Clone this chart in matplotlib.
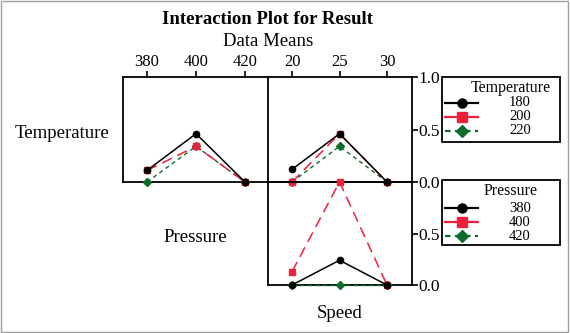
import matplotlib
matplotlib.use("Agg")
import matplotlib.pyplot as plt
from matplotlib.lines import Line2D
from matplotlib.patches import Rectangle

plt.rcParams['font.family'] = ['Liberation Serif', 'DejaVu Serif']

pressure_levels = [380, 400, 420]
speed_levels = [20, 25, 30]
temperature_levels = ['180', '200', '220']
pressure_names = ['380', '400', '420']

# Temperature lines vs Pressure (top-left panel)
temp_vs_pressure = {
    '180': [0.11, 0.46, 0.0],
    '200': [0.11, 0.34, 0.0],
    '220': [0.0, 0.34, 0.0],
}
# Temperature lines vs Speed (top-right panel)
temp_vs_speed = {
    '180': [0.12, 0.46, 0.0],
    '200': [0.0, 0.46, 0.0],
    '220': [0.0, 0.34, 0.0],
}
# Pressure lines vs Speed (bottom-right panel)
pressure_vs_speed = {
    '380': [0.0, 0.24, 0.0],
    '400': [0.13, 1.0, 0.0],
    '420': [0.0, 0.0, 0.0],
}

styles = [
    dict(color='black', linestyle='-', marker='o', markersize=4.5, linewidth=1.1),
    dict(color='#f0203a', linestyle=(0, (7, 4)), marker='s', markersize=4.5, linewidth=1.1),
    dict(color='#0d6b2c', linestyle=(0, (3, 2.5)), marker='D', markersize=3.8, linewidth=1.0),
]

W, H = 570, 333
fig = plt.figure(figsize=(W / 100, H / 100), dpi=100)


def ax_px(l, r, t, b):
    return fig.add_axes([l / W, (H - b) / H, (r - l) / W, (b - t) / H])


def fx(x):
    return x / W


def fy(y):
    return 1 - y / H


axA = ax_px(123, 268, 77, 182)
axB = ax_px(268, 412, 77, 182)
axC = ax_px(268, 412, 182, 285)

for ax in (axA, axB, axC):
    ax.set_ylim(0, 1.0)
    for s in ax.spines.values():
        s.set_linewidth(1.3)
    ax.set_facecolor('none')

axA.set_xlim(370.2, 429.4)
axB.set_xlim(17.47, 32.63)
axC.set_xlim(17.47, 32.63)

for i, k in enumerate(temperature_levels):
    axA.plot(pressure_levels, temp_vs_pressure[k], zorder=3 - i * 0.1, **styles[i])
    axB.plot(speed_levels, temp_vs_speed[k], zorder=3 - i * 0.1, **styles[i])
for i, k in enumerate(pressure_names):
    axC.plot(speed_levels, pressure_vs_speed[k], zorder=3 - i * 0.1, **styles[i])

for ax in (axA, axB, axC):
    for ln in ax.lines:
        ln.set_clip_on(False)

# top x tick labels
axA.xaxis.tick_top()
axA.set_xticks(pressure_levels)
axA.set_xticklabels([str(v) for v in pressure_levels])
axB.xaxis.tick_top()
axB.set_xticks(speed_levels)
axB.set_xticklabels([str(v) for v in speed_levels])
for ax in (axA, axB):
    ax.tick_params(axis='x', direction='out', length=4, width=1.2, pad=1, labelsize=12)
axA.set_yticks([])
axA.spines['right'].set_visible(False)

axB.yaxis.tick_right()
axB.set_yticks([0.0, 0.5, 1.0])
axB.set_yticklabels(['0.0', '0.5', '1.0'])
axC.yaxis.tick_right()
axC.set_yticks([0.0, 0.5])
axC.set_yticklabels(['0.0', '0.5'])
axC.set_xticks([])
for ax in (axB, axC):
    ax.tick_params(axis='y', direction='out', length=4, width=1.2, pad=0.5, labelsize=12.5)

# labels
fig.text(fx(268), fy(19), 'Interaction Plot for Result', ha='center', va='center',
         fontsize=13.5, fontweight='bold')
fig.text(fx(268), fy(42), 'Data Means', ha='center', va='center', fontsize=13.5)
fig.text(fx(62), fy(134), 'Temperature', ha='center', va='center', fontsize=13.5)
fig.text(fx(195), fy(238), 'Pressure', ha='center', va='center', fontsize=13.5)
fig.text(fx(340), fy(313), 'Speed', ha='center', va='center', fontsize=13.5)


# legends drawn as boxes in figure coordinates
def draw_legend(top, bottom, title, title_y, names, entry_ys):
    fig.patches.append(Rectangle((fx(442), fy(bottom)), fx(560) - fx(442), fy(top) - fy(bottom),
                                 transform=fig.transFigure, fill=False,
                                 edgecolor='black', linewidth=1.3))
    fig.text(fx(511), fy(title_y), title, ha='center', va='center', fontsize=11.5)
    for i, (name, yy) in enumerate(zip(names, entry_ys)):
        s = styles[i]
        ls = '-' if i < 2 else (0, (2.5, 2))
        fig.add_artist(Line2D([fx(445), fx(478)], [fy(yy), fy(yy)], transform=fig.transFigure,
                              color=s['color'], linestyle=ls, linewidth=1.6))
        fig.add_artist(Line2D([fx(461.5)], [fy(yy)], transform=fig.transFigure,
                              color=s['color'], marker=s['marker'],
                              markersize=s['markersize'] + 2, linestyle='none'))
        fig.text(fx(509), fy(yy), name, ha='left', va='center', fontsize=10.5)


draw_legend(77, 142, 'Temperature', 88, temperature_levels, [103, 117, 131])
draw_legend(180, 245, 'Pressure', 191, pressure_names, [208, 222, 236])

fig.patches.append(Rectangle((0.002, 0.003), 0.995, 0.993, transform=fig.transFigure,
                             fill=False, edgecolor='#a0a0a0', linewidth=1.0))

fig.savefig('out.png', dpi=100)
